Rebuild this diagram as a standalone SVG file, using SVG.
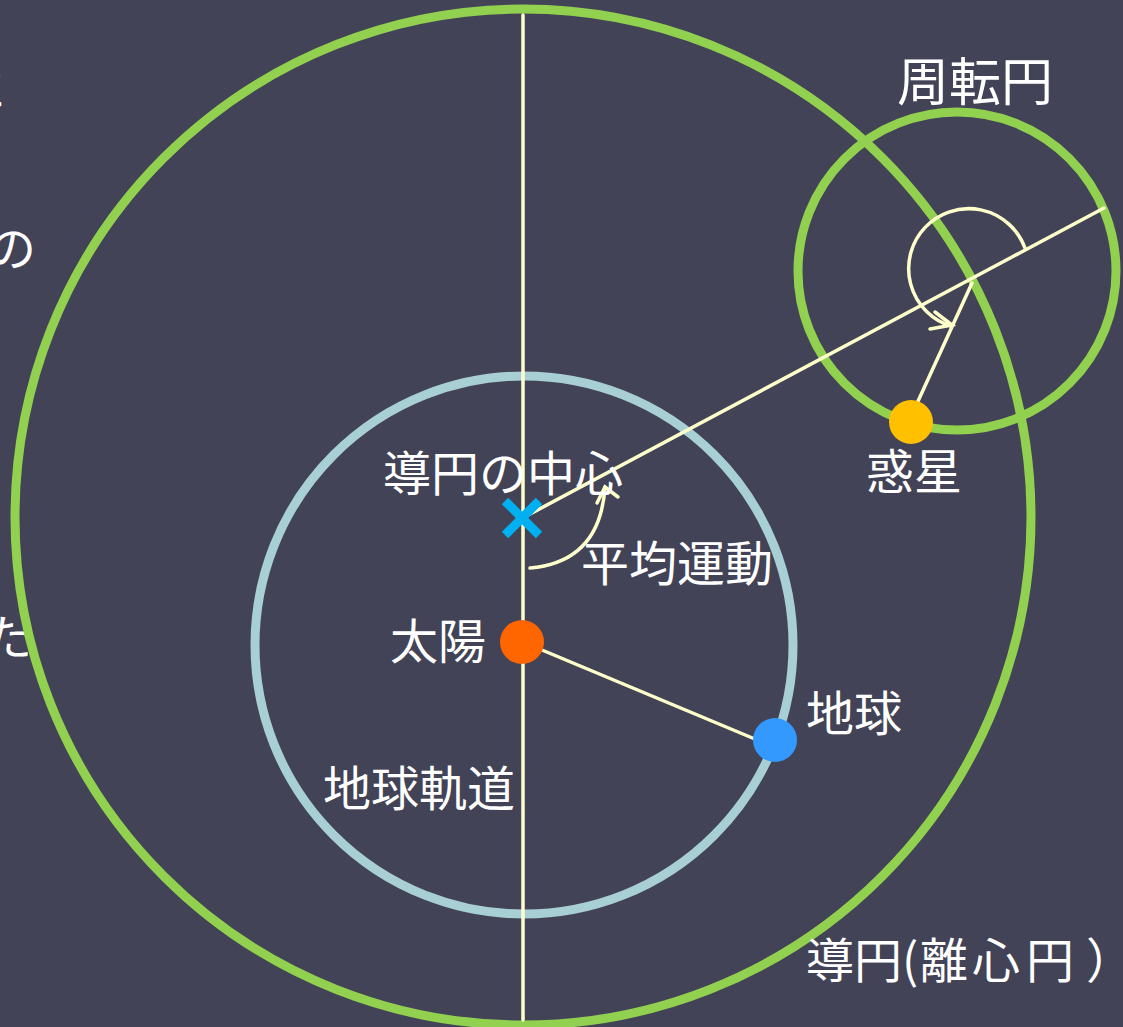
<svg xmlns="http://www.w3.org/2000/svg" width="1123" height="1027" viewBox="0 0 1123 1027">
<style>
.lbl{font-family:"Noto Sans CJK JP","Noto Sans",sans-serif;font-size:48px;fill:#FFFFFF}
.orbit{fill:none;stroke-width:9}
.ln{fill:none;stroke:#FFFFCC;stroke-width:3.5;stroke-linecap:round}
</style>
<rect width="1123" height="1027" fill="#424356"/>
<g id="fragments">
<text class="lbl" x="6" y="107" text-anchor="end">に</text>
<text class="lbl" x="36" y="266" text-anchor="end">の</text>
<text class="lbl" x="32" y="655" text-anchor="end">た</text>
</g>
<g id="deferent"><circle class="orbit" cx="523" cy="517" r="508" stroke="#92D050"/></g>
<g id="earth-orbit"><circle class="orbit" cx="524" cy="645" r="269" stroke="#A8CFD3"/></g>
<g id="epicycle"><circle class="orbit" cx="957" cy="271" r="159" stroke="#92D050"/></g>
<g id="connectors">
<line class="ln" x1="523" y1="15" x2="523" y2="1020"/>
<line class="ln" x1="515" y1="522" x2="1104" y2="208"/>
<line class="ln" x1="530" y1="645" x2="762" y2="742"/>
<line class="ln" x1="972" y1="283" x2="914" y2="410"/>
<path class="ln" d="M530 568 Q600 562 605 487"/>
<path class="ln" d="M597 503 L605 487 L618 497"/>
<path class="ln" d="M1025 248 A60 60 0 1 0 951 326"/>
<path class="ln" d="M935 312 L952 325 L930 329"/>
</g>
<g id="center"><path d="M505 501 L539 535 M539 501 L505 535" stroke="#00B0F0" stroke-width="9"/></g>
<g id="sun"><circle cx="522" cy="642" r="22" fill="#FF6600"/></g>
<g id="earth"><circle cx="775" cy="740" r="22" fill="#3399FF"/></g>
<g id="planet"><circle cx="911" cy="422" r="22" fill="#FFC000"/></g>
<g id="labels">
<text class="lbl" x="897" y="101" style="font-size:52px">周転円</text>
<text class="lbl" x="383" y="491">導円の中心</text>
<text class="lbl" x="866" y="489">惑星</text>
<text class="lbl" x="581" y="581">平均運動</text>
<text class="lbl" x="390" y="659">太陽</text>
<text class="lbl" x="806" y="731">地球</text>
<text class="lbl" x="323" y="806">地球軌道</text>
<text class="lbl" x="806" y="978"><tspan>導円(</tspan><tspan x="920 972 1026 1086">離心円）</tspan></text>
</g>
</svg>
